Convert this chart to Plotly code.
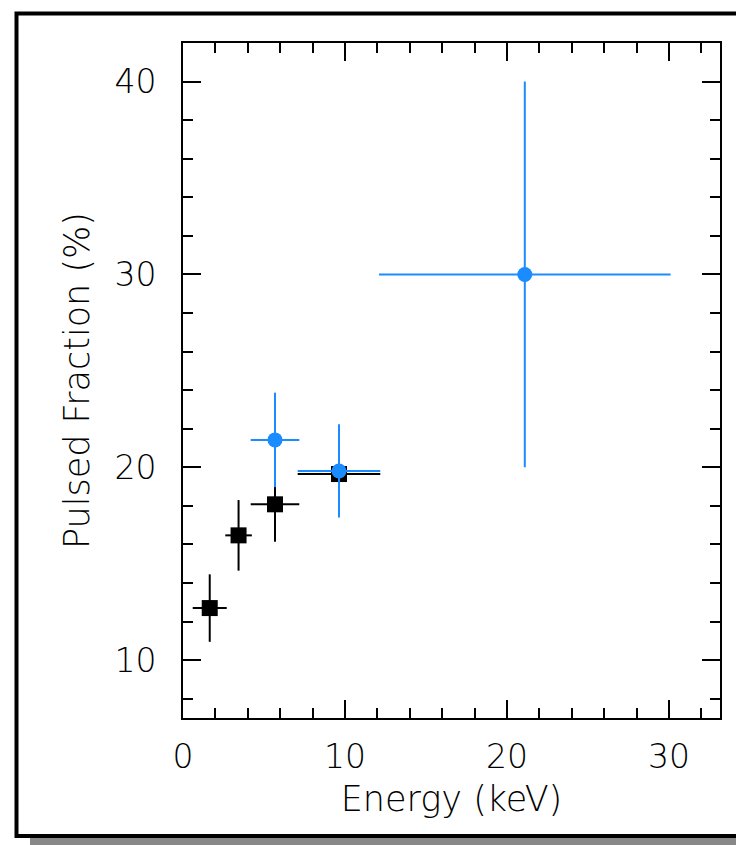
import plotly.graph_objects as go

# Data
energy_black = [1.65, 3.43, 5.68, 9.63]
energy_black_err = [1.05, 0.82, 1.5, 2.55]
pf_black = [12.7, 16.47, 18.08, 19.65]
pf_black_err = [1.75, 1.83, 1.94, 1.5]

energy_blue = [5.68, 9.63, 21.1]
energy_blue_err = [1.5, 2.55, 9.0]
pf_blue = [21.42, 19.81, 30.0]
pf_blue_err = [2.45, 2.42, 10.0]

x_ticks = [0, 10, 20, 30]
y_ticks = [10, 20, 30, 40]

BLUE = "#1a8cff"
FONT = "DejaVu Sans"

W, H = 736, 845
L, R, T, B = 183, 720, 43, 718
pw, ph = R - L, B - T


def px(x):
    return (x - L) / pw


def py(y):
    return (B - y) / ph


fig = go.Figure()

fig.add_trace(go.Scatter(
    x=energy_black, y=pf_black, mode="markers",
    marker=dict(symbol="square", size=16, color="black", line=dict(width=0)),
    error_x=dict(type="data", array=energy_black_err, color="black", thickness=2, width=0),
    error_y=dict(type="data", array=pf_black_err, color="black", thickness=2, width=0),
    showlegend=False,
))
fig.add_trace(go.Scatter(
    x=energy_blue, y=pf_blue, mode="markers",
    marker=dict(symbol="circle", size=15, color=BLUE, line=dict(width=0)),
    error_x=dict(type="data", array=energy_blue_err, color=BLUE, thickness=2, width=0),
    error_y=dict(type="data", array=pf_blue_err, color=BLUE, thickness=2, width=0),
    showlegend=False,
))

axis_common = dict(
    showline=True, linecolor="black", linewidth=2, mirror="allticks",
    ticks="inside", ticklen=18, tickwidth=2, tickcolor="black",
    showgrid=False, zeroline=False,
    tickfont=dict(family=FONT, size=33, color="black", weight=300),
)

fig.update_xaxes(
    range=[0, 33.15], tickvals=x_ticks, ticktext=[str(v) for v in x_ticks],
    minor=dict(dtick=2, tick0=0, ticks="inside", ticklen=10, tickwidth=2, tickcolor="black"),
    title=dict(text="Energy (keV)", font=dict(family=FONT, size=35, color="black", weight=300), standoff=12),
    ticklabelstandoff=8,
    **axis_common,
)
fig.update_yaxes(
    range=[7.0, 42.0], tickvals=y_ticks, ticktext=[str(v) for v in y_ticks],
    minor=dict(dtick=2, tick0=0, ticks="inside", ticklen=10, tickwidth=2, tickcolor="black"),
    title=dict(text="Pulsed Fraction (%)", font=dict(family=FONT, size=35, color="black", weight=300), standoff=14),
    ticklabelstandoff=18,
    **axis_common,
)

shapes = [
    # gray shadow
    dict(type="rect", xref="paper", yref="paper",
         x0=px(30), x1=px(780), y0=py(838), y1=py(860),
         fillcolor="#888888", line=dict(width=0), layer="below"),
    # outer frame
    dict(type="rect", xref="paper", yref="paper",
         x0=px(16.5), x1=px(760), y0=py(836), y1=py(13.5),
         line=dict(color="black", width=4), fillcolor="rgba(0,0,0,0)"),
]

fig.update_layout(
    width=W, height=H,
    margin=dict(l=L, r=W - R, t=T, b=H - B),
    paper_bgcolor="white", plot_bgcolor="white",
    shapes=shapes,
)

fig.write_html("out.html")
